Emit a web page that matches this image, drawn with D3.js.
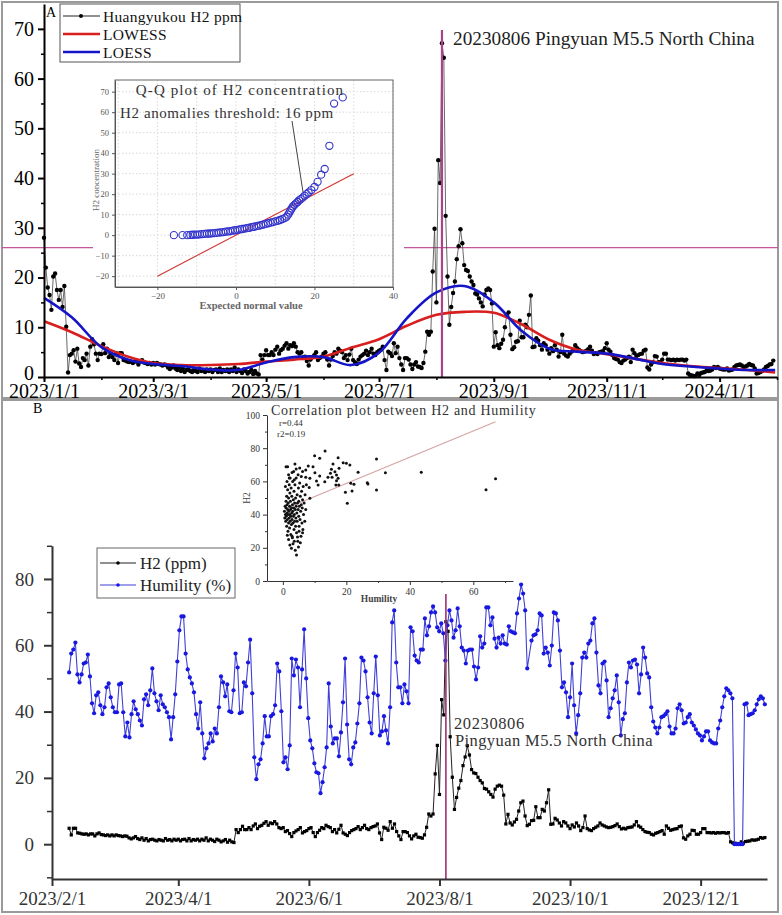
<!DOCTYPE html>
<html>
<head>
<meta charset="utf-8">
<script src="https://cdnjs.cloudflare.com/ajax/libs/d3/7.8.5/d3.min.js"></script>
<style>
  body { margin: 0; background: #fff; }
  svg { display: block; }
</style>
</head>
<body>
<svg id="chart" width="782" height="915"></svg>
<script>
// ---------- data ----------
// Huangyukou H2 (ppm), daily from 2023-01-01 to 2024-01-30
const h2Start = "2023-01-01";
const h2Daily = [
  // Jan
  28, 22, 18, 16.5, 13.5, 20.2, 20.8, 17.5, 15.5, 17.5, 14.1, 18.3, 10.1, 0.9, 4.4, 4.7, 5.4, 3.1, 5.7, 2.7, 2.0, 3.8, 3.4, 4.7, 2.3, 6.1, 7.6, 6.6, 4.7, 3.4, 4.7,
  // Feb
  4.6, 6.6, 4.8, 5.7, 4.0, 4.7, 4.0, 3.4, 4.8, 2.8, 4.8, 4.8, 3.4, 3.3, 3.1, 3.0, 3.1, 2.8, 3.1, 3.1, 2.5, 3.1, 3.4, 2.9, 2.8, 2.6, 2.8, 2.5,
  // Mar
  2.8, 2.5, 2.8, 2.6, 2.5, 2.3, 2.5, 2.4, 1.9, 1.6, 1.9, 2.3, 1.7, 1.4, 1.9, 1.2, 1.7, 1.0, 1.4, 1.5, 1.2, 1.0, 1.4, 1.2, 1.0, 1.7, 1.2, 1.4, 1.0, 1.5, 1.2,
  // Apr
  1.5, 1.0, 1.4, 1.5, 1.0, 1.7, 1.0, 1.4, 1.2, 1.5, 1.0, 1.5, 1.2, 1.9, 1.0, 1.5, 1.2, 0.8, 1.5, 1.2, 0.7, 1.0, 1.4, 0.6, 1.2, 0.7, 0.5, 4.4, 3.5, 4.4,
  // May
  5.4, 4.4, 4.4, 5.0, 4.4, 5.5, 6.1, 4.7, 5.4, 5.7, 6.3, 6.8, 5.7, 6.4, 6.2, 6.8, 6.1, 5.0, 4.7, 5.0, 3.8, 4.1, 3.2, 2.3, 3.5, 4.0, 4.4, 5.0, 3.4, 3.8, 4.1,
  // Jun
  4.7, 5.0, 3.5, 2.3, 3.5, 4.2, 5.0, 4.7, 5.7, 5.3, 5.0, 3.8, 4.4, 3.4, 4.5, 5.7, 3.4, 3.0, 2.6, 3.5, 4.1, 4.4, 4.7, 5.3, 4.4, 5.0, 5.7, 4.7, 4.4, 5.0,
  // Jul
  5.3, 5.5, 6.1, 3.4, 1.4, 5.1, 4.8, 4.2, 6.8, 4.8, 6.1, 3.8, 2.5, 1.4, 3.8, 3.8, 3.5, 2.5, 1.6, 2.5, 3.0, 2.1, 2.0, 1.8, 2.8, 5.1, 9.1, 8.5, 9.1, 21.2, 29.8,
  // Aug
  15.0, 43.6, 39.0, 67.1, 64.2, 32.4, 20.2, 10.5, 14.1, 16.9, 19.2, 23.7, 26.3, 29.7, 26.9, 22.5, 21.5, 21.3, 20.2, 19.2, 18.5, 16.8, 16.6, 15.8, 15.0, 14.2, 16.6, 17.5, 17.8, 17.5, 14.8,
  // Sep
  6.1, 9.0, 6.4, 5.8, 6.7, 7.5, 10.0, 12.5, 13.0, 8.5, 5.6, 6.0, 7.1, 7.2, 11.3, 8.0, 8.0, 10.5, 10.0, 12.5, 16.4, 6.0, 6.1, 7.8, 7.3, 6.4, 5.5, 6.8, 6.4, 5.5,
  // Oct
  4.7, 5.8, 5.2, 6.4, 5.5, 4.1, 5.0, 8.5, 4.7, 4.3, 4.1, 4.7, 5.1, 5.5, 6.4, 5.8, 5.5, 5.2, 5.0, 5.1, 5.3, 5.6, 6.1, 5.3, 4.6, 4.8, 4.6, 5.0, 5.1, 5.2, 5.8,
  // Nov
  6.8, 5.5, 5.1, 4.4, 3.8, 3.6, 3.5, 3.0, 2.8, 3.3, 3.5, 3.8, 4.1, 3.0, 5.5, 4.8, 4.2, 4.4, 4.6, 4.7, 5.3, 5.5, 1.9, 1.5, 2.5, 3.0, 4.2, 4.1, 3.0, 3.0,
  // Dec
  3.5, 4.7, 4.7, 3.5, 3.5, 3.4, 3.5, 3.3, 3.5, 3.4, 3.5, 3.5, 3.3, 3.5, 0.7, 0.4, 0.3, 0.2, 0.2, 0.7, 0.4, 0.8, 0.9, 1.0, 1.3, 1.2, 1.3, 1.5, 2.0, 1.8, 2.0,
  // Jan 2024
  1.7, 1.6, 1.5, 1.5, 1.7, 1.3, 1.4, 1.5, 2.0, 2.3, 2.4, 2.5, 2.3, 2.0, 2.1, 2.3, 2.6, 2.4, 2.3, 1.7, 0.7, 0.8, 1.0, 1.2, 1.5, 2.0, 2.2, 2.5, 2.6, 3.3
];

// smoothed curves, read at the 1st and 16th of each month
const smoothDates = ["2023-01-01", "2023-01-16", "2023-02-01", "2023-02-16", "2023-03-01", "2023-03-16",
  "2023-04-01", "2023-04-16", "2023-05-01", "2023-05-16", "2023-06-01", "2023-06-16", "2023-07-01",
  "2023-07-16", "2023-08-01", "2023-08-16", "2023-09-01", "2023-09-16", "2023-10-01", "2023-10-16",
  "2023-11-01", "2023-11-16", "2023-12-01", "2023-12-16", "2024-01-01", "2024-01-16", "2024-01-31"];
const lowessVals = [11.2, 9.0, 6.2, 4.0, 2.8, 2.4, 2.4, 2.6, 3.1, 3.5, 4.1, 5.9, 7.6, 10.3, 12.5, 13.1,
  12.9, 10.6, 7.5, 5.5, 4.6, 3.7, 2.8, 2.2, 1.8, 1.4, 0.9];
const loessVals = [15.9, 12.0, 6.0, 3.4, 2.6, 2.2, 1.5, 1.4, 2.9, 4.0, 4.0, 2.4, 4.9, 11.8, 17.0, 18.3,
  15.0, 9.3, 5.7, 5.1, 4.7, 3.7, 2.6, 2.1, 1.7, 1.4, 1.4];

const refLevelA = 26;
const eventDate = "2023-08-04";   // where the reference draws the event line
const eventLabel = "20230806 Pingyuan M5.5 North China";

// Q-Q plot: [expected normal value, H2 concentration]
const qqPoints = [[-15.8, 0], [-13.6, 0], [-12.4, 0], [-11.6, 0.1], [-11, 0.2], [-10.4, 0.3], [-9.8, 0.3],
  [-9.2, 0.4], [-8.6, 0.5], [-8, 0.6], [-7.4, 0.7], [-6.8, 0.8], [-6.2, 0.9], [-5.6, 1.0], [-5, 1.1],
  [-4.4, 1.2], [-3.8, 1.4], [-3.2, 1.5], [-2.6, 1.7], [-2, 1.8], [-1.4, 2.0], [-0.8, 2.2], [-0.2, 2.4],
  [0.4, 2.6], [1, 2.8], [1.6, 3.0], [2.2, 3.2], [2.8, 3.4], [3.4, 3.6], [4, 3.9], [4.6, 4.1], [5.2, 4.4],
  [5.8, 4.6], [6.4, 4.9], [7, 5.2], [7.6, 5.5], [8.2, 5.8], [8.8, 6.1], [9.4, 6.4], [10, 6.7], [10.6, 7.0],
  [11.2, 7.4], [11.8, 7.8], [12.4, 8.3], [12.9, 9.0], [13.3, 10], [13.6, 11], [13.9, 12], [14.2, 13],
  [14.5, 14], [14.9, 14.8], [15.3, 15.5], [15.7, 16.2], [16.1, 17], [16.5, 17.6], [17, 18.3], [17.5, 19.2],
  [18, 20], [18.5, 20.8], [19.2, 22], [20, 23.5], [20.8, 26], [21.7, 29.5], [22.6, 32.3], [23.8, 43.6],
  [25, 64.2], [27.2, 67.2]];
const qqRefLine = [[-20, -20], [30, 30]];

// Humility (%), roughly daily, three stretches of the record
const humPeriods = [["2023-02-09", "2023-05-24"], ["2023-05-25", "2023-09-11"], ["2023-09-13", "2023-12-31"]];
const humFebMay = [51.8, 57.5, 58.7, 60.8, 51.2, 48.8, 51.2, 54.5, 54.8, 57.2, 50.6, 42.5, 39.5, 44.9, 45.8,
  41.9, 39.2, 41.3, 47.3, 48.5, 44.3, 41.3, 39.8, 39.8, 48.2, 48.5, 39.8, 32.5, 36.7, 32.2, 39.2, 43.1, 40.7,
  39.2, 37.3, 35.8, 43.7, 45.2, 41.9, 46.4, 53, 45.5, 43.1, 40.4, 44.9, 42.2, 41.3, 39.8, 38.3, 31.6, 38.3,
  45.2, 55.1, 64.5, 68.7, 68.7, 57.5, 52.7, 50.3, 48.5, 45.8, 39.2, 34.9, 42.8, 33.4, 25.9, 28.9, 30.4, 33.4,
  31, 34.9, 33.4, 41.3, 50.6, 48.8, 44.6, 48.2, 40.1, 39.8, 46.4, 57.5, 53.3, 39.5, 39.8, 48.8, 47.6, 54.8,
  61.7, 45.5, 26.2, 19.6, 24.1, 25.6, 30.4, 38.6, 32.5, 32.5, 38.6, 39.2, 41.9, 54.5, 52.1, 40.1, 24.7, 26.2,
  22.6, 29.8, 56];
const humMaySep = [50.9, 55.7, 53.3, 41.3, 52.7, 64.8, 50, 38, 31.3, 28.9, 24.4, 21.7, 21.4, 15.4, 18.7, 23.2,
  29.2, 48.5, 35.5, 30.4, 31.9, 31.9, 26.5, 33.7, 42.8, 56, 36.1, 25.6, 24.1, 29.2, 30.7, 36.4, 42.5, 56.3,
  55.4, 52.1, 44.3, 36.7, 33.4, 45.5, 56.6, 44.9, 32.8, 34, 38.6, 34.3, 30.4, 41.3, 66.9, 70.5, 54.8, 47.3,
  47.3, 42.5, 48.2, 46.1, 42.5, 65.4, 64.2, 56.9, 55.4, 54.8, 58.7, 58.7, 68.1, 63, 65.7, 69.9, 71.7, 69.9,
  65.4, 64.2, 66.6, 63.6, 55.4, 66, 70.5, 67.5, 62.3, 64.5, 71.1, 65.7, 59.3, 58.4, 54.5, 58.4, 58.7, 58.7,
  53.6, 49.7, 53.3, 62.7, 59.3, 60.5, 71.4, 71.4, 66, 68.4, 62, 59.3, 62.3, 60.5, 63, 60.5, 60.2, 65.7, 64.2,
  63.9, 63.6, 69.6, 74.1, 78.3, 75.6, 70.5, 53];
const humSepDec = [61.4, 63, 63.3, 64.5, 69.6, 69, 57.5, 59.3, 57.8, 53.9, 59.9, 69.9, 69.6, 67.5, 58.4, 47.3,
  48.8, 45.8, 38.3, 44.3, 54.5, 41.9, 33.4, 38.9, 45.5, 56.3, 57.8, 56.3, 60.5, 61.4, 66.6, 68.1, 57.8, 47.9,
  45.5, 54.5, 55.1, 49.4, 38.3, 41, 44, 46.4, 50.9, 42.8, 32.8, 37.7, 39.5, 48.8, 54.8, 53.3, 55.4, 55.7, 54.2,
  45.5, 51.2, 59.3, 56.3, 51.5, 50.3, 41.3, 37, 35.2, 33.4, 35.2, 38.3, 38.6, 39.2, 40.1, 35.5, 33.4, 33.4,
  34.9, 41, 42.2, 40.4, 36.4, 36.7, 38.3, 39.2, 36.7, 35.8, 34.6, 33.4, 32.8, 31.3, 32.5, 34, 34, 31.3, 30.7,
  30.4, 30.4, 34.9, 37.3, 41.3, 44.6, 47, 46.4, 45.5, 44, 0, 0, 0, 0, 0, 42.2, 42.5, 38.9, 39.2, 39.5, 40.4,
  42.2, 43.7, 44.6, 44, 42.2];

// correlation inset: [Humility, H2]
const corrPoints = [
  [0.5, 42], [0.6, 38], [0.7, 45], [0.8, 40], [0.9, 36], [1.0, 44], [1.0, 48], [1.1, 39], [1.2, 33], [1.2, 51],
  [1.3, 41], [1.3, 46], [1.4, 37], [1.5, 43], [1.5, 55], [1.6, 30], [1.6, 40], [1.7, 47], [1.8, 35], [1.8, 50],
  [1.9, 42], [2.0, 38], [2.0, 58], [2.1, 45], [2.1, 32], [2.2, 40], [2.2, 53], [2.3, 36], [2.4, 43], [2.4, 48],
  [2.5, 28], [2.5, 39], [2.6, 56], [2.7, 34], [2.7, 44], [2.8, 41], [2.8, 51], [2.9, 37], [3.0, 46], [3.0, 26],
  [3.1, 42], [3.1, 60], [3.2, 35], [3.3, 49], [3.3, 39], [3.4, 44], [3.5, 31], [3.5, 54], [3.6, 40], [3.7, 47],
  [3.7, 36], [3.8, 58], [3.9, 43], [4.0, 33], [4.0, 50], [4.1, 38], [4.2, 45], [4.2, 62], [4.3, 29], [4.4, 41],
  [4.5, 52], [4.5, 36], [4.6, 47], [4.7, 24], [4.8, 43], [4.9, 56], [5.0, 39], [5.0, 48], [5.1, 33], [5.2, 45],
  [5.3, 59], [5.4, 37], [5.5, 51], [5.6, 42], [5.7, 27], [5.8, 46], [5.9, 54], [6.0, 35], [6.1, 44], [6.2, 49],
  [6.3, 31], [6.4, 57], [6.5, 40], [6.7, 47], [6.9, 36], [7.0, 52], [7.2, 43], [7.4, 58],
  [1.0, 68.9], [1.5, 68.9], [1.8, 64], [2.3, 62], [2.9, 65.3], [3.4, 66], [3.8, 70.5], [4.2, 67.5], [4.8, 64],
  [5.3, 68], [5.8, 63], [6.2, 66], [0.8, 57], [1.3, 60], [2.0, 62], [3.6, 61],
  [2.7, 19.7], [2.2, 21.7], [3.2, 22.5], [4.3, 15.7], [3.6, 24], [1.8, 25], [4.9, 20.5], [2.9, 27], [5.5, 23],
  [3.9, 18.5], [1.4, 27.5], [4.6, 26.5], [6.2, 29], [5.1, 30],
  [10, 75.5], [11.6, 73.9], [13.3, 78.3], [15.8, 70.5], [17.4, 74.3], [19, 71.3], [20, 70.9], [21.1, 69.9],
  [23.7, 65.5], [29.5, 73.5], [32.3, 65.2], [43.6, 65.5], [67, 61.6], [64, 55], [29.5, 54.8], [26.6, 59.2],
  [26.8, 58.5], [22.4, 58.3], [21.4, 58.9], [19.7, 53.4], [21.8, 54.2], [20.3, 46.8], [11.1, 57.8], [8.5, 61.9],
  [11.6, 63.3], [13.2, 59.8], [14.2, 62.5], [15, 64.9], [15.5, 62.5], [16.4, 65.8], [16.9, 63.9], [17.4, 61.9],
  [17.7, 67.9], [16.7, 57.8], [17.6, 57.8], [16.9, 60.4], [15.3, 67.3], [9.5, 68.9], [8, 69.3], [7.2, 66.9],
  [10.1, 65.2], [10.6, 60.2], [8.3, 56.4], [8.5, 49.8], [7.2, 62.5]
];
const corrFit = [[1.3, 44], [67, 96]];

const tickDatesA = ["2023-01-01", "2023-03-01", "2023-05-01", "2023-07-01", "2023-09-01", "2023-11-01", "2024-01-01"];
const tickDatesB = ["2023-02-01", "2023-04-01", "2023-06-01", "2023-08-01", "2023-10-01", "2023-12-01"];

// ---------- drawing ----------
const SERIF = '"Liberation Serif", "Times New Roman", serif';
const parse = d3.timeParse("%Y-%m-%d");
const fmt = d3.timeFormat("%Y/%-m/%-d");
const svg = d3.select("#chart");

function styleAxis(g, size, color, width) {
  g.attr("font-family", SERIF);
  g.select(".domain").attr("stroke", color).attr("stroke-width", width);
  g.selectAll(".tick line").attr("stroke", color).attr("stroke-width", width);
  g.selectAll(".tick text").attr("font-size", size).attr("fill", color);
}

const h2Series = h2Daily.map((v, i) => ({ date: d3.timeDay.offset(parse(h2Start), i), value: v }));

// panel frames
svg.append("rect").attr("x", 2).attr("y", 2).attr("width", 776).attr("height", 396)
  .attr("fill", "none").attr("stroke", "#9a9a9a").attr("stroke-width", 2);
svg.append("rect").attr("x", 2).attr("y", 400).attr("width", 776).attr("height", 512)
  .attr("fill", "none").attr("stroke", "#9a9a9a").attr("stroke-width", 2);

// ===== Panel A =====
const xA = d3.scaleTime().domain([parse("2023-01-01"), parse("2024-02-01")]).range([44, 777]);
const yA = d3.scaleLinear().domain([0, 75]).range([377, 4]);
const gA = svg.append("g");

gA.append("line").attr("x1", 2).attr("x2", 778).attr("y1", yA(refLevelA)).attr("y2", yA(refLevelA))
  .attr("stroke", "#c2559c").attr("stroke-width", 1.2);

gA.append("path").datum(h2Series)
  .attr("fill", "none").attr("stroke", "#444").attr("stroke-width", 0.8)
  .attr("d", d3.line().x(d => xA(d.date)).y(d => yA(d.value)));
gA.append("g").selectAll("circle").data(h2Series).join("circle")
  .attr("cx", d => xA(d.date)).attr("cy", d => yA(d.value)).attr("r", 2.2).attr("fill", "#000");

const smoothLine = vals => d3.line().curve(d3.curveCatmullRom.alpha(0.5))
  .x((d, i) => xA(parse(smoothDates[i]))).y(d => yA(d))(vals);
gA.append("path").attr("d", smoothLine(lowessVals)).attr("fill", "none")
  .attr("stroke", "#d81e1e").attr("stroke-width", 2.6);
gA.append("path").attr("d", smoothLine(loessVals)).attr("fill", "none")
  .attr("stroke", "#1414c8").attr("stroke-width", 2.6);

gA.append("line").attr("x1", xA(parse(eventDate))).attr("x2", xA(parse(eventDate)))
  .attr("y1", 30).attr("y2", 377).attr("stroke", "#a8458a").attr("stroke-width", 2.2);
gA.append("text").attr("x", 453).attr("y", 45).attr("font-family", SERIF).attr("font-size", 19.3)
  .attr("fill", "#222").text(eventLabel);

// axes A
const axA = gA.append("g").attr("transform", "translate(0,377)")
  .call(d3.axisBottom(xA).tickValues(tickDatesA.map(parse)).tickFormat(fmt)
    .tickSize(5).tickPadding(2).tickSizeOuter(0));
styleAxis(axA, 20, "#000", 2);
const axAminor = gA.append("g").attr("transform", "translate(0,377)")
  .call(d3.axisBottom(xA).ticks(d3.timeMonth.every(1)).tickFormat("").tickSize(3).tickSizeOuter(0));
axAminor.select(".domain").remove();
axAminor.selectAll(".tick line").attr("stroke", "#000").attr("stroke-width", 1.5);

const ayA = gA.append("g").attr("transform", "translate(44,0)")
  .call(d3.axisLeft(yA).tickValues(d3.range(0, 71, 10)).tickSize(6).tickPadding(4).tickSizeOuter(0));
styleAxis(ayA, 20, "#000", 2);
// lift the "0" label a little so it clears the date labels below
ayA.selectAll(".tick text").filter(d => d === 0).attr("dy", "0.1em");
const ayAminor = gA.append("g").attr("transform", "translate(44,0)")
  .call(d3.axisLeft(yA).tickValues(d3.range(5, 71, 10)).tickFormat("").tickSize(3).tickSizeOuter(0));
ayAminor.select(".domain").remove();
ayAminor.selectAll(".tick line").attr("stroke", "#000").attr("stroke-width", 1.5);

gA.append("text").attr("x", 46).attr("y", 17).attr("font-family", SERIF).attr("font-size", 14).text("A");

// legend A
const legA = gA.append("g");
legA.append("rect").attr("x", 60).attr("y", 4).attr("width", 180).attr("height", 58)
  .attr("fill", "#fff").attr("stroke", "#555").attr("stroke-width", 1);
const legAItems = [
  { label: "Huangyukou H2 ppm", color: "#222", width: 1, dot: true },
  { label: "LOWESS", color: "#d81e1e", width: 2.6, dot: false },
  { label: "LOESS", color: "#1414c8", width: 2.6, dot: false }
];
legAItems.forEach((it, i) => {
  const y = 16 + i * 18;
  legA.append("line").attr("x1", 63).attr("x2", 100).attr("y1", y).attr("y2", y)
    .attr("stroke", it.color).attr("stroke-width", it.width);
  if (it.dot) legA.append("circle").attr("cx", 81).attr("cy", y).attr("r", 2).attr("fill", "#000");
  legA.append("text").attr("x", 103).attr("y", y + 5.5).attr("font-family", SERIF)
    .attr("font-size", 15.5).attr("letter-spacing", 0.3).attr("fill", "#111").text(it.label);
});

// Q-Q inset
const gQ = gA.append("g");
gQ.append("rect").attr("x", 93).attr("y", 68).attr("width", 311).attr("height", 247).attr("fill", "#fff");
const xQ = d3.scaleLinear().domain([-30.8, 40]).range([115, 393]);
const yQ = d3.scaleLinear().domain([-25.3, 75.7]).range([287, 80]);
d3.range(-20, 71, 10).forEach(v => {
  gQ.append("line").attr("x1", 115).attr("x2", 393).attr("y1", yQ(v)).attr("y2", yQ(v))
    .attr("stroke", "#cfcfcf").attr("stroke-width", 0.8).attr("stroke-dasharray", "1.5,2");
});
d3.range(-30, 41, 10).forEach(v => {
  gQ.append("line").attr("x1", xQ(v)).attr("x2", xQ(v)).attr("y1", 80).attr("y2", 287)
    .attr("stroke", "#cfcfcf").attr("stroke-width", 0.8).attr("stroke-dasharray", "1.5,2");
});
gQ.append("rect").attr("x", 115).attr("y", 80).attr("width", 278).attr("height", 207)
  .attr("fill", "none").attr("stroke", "#666").attr("stroke-width", 1);
const axQ = gQ.append("g").attr("transform", "translate(0,287)")
  .call(d3.axisBottom(xQ).tickValues([-20, 0, 20, 40]).tickSize(3).tickPadding(3).tickSizeOuter(0));
styleAxis(axQ, 9, "#555", 1);
const ayQ = gQ.append("g").attr("transform", "translate(115,0)")
  .call(d3.axisLeft(yQ).tickValues(d3.range(-20, 71, 10)).tickSize(3).tickPadding(3).tickSizeOuter(0));
styleAxis(ayQ, 8.5, "#555", 1);
gQ.append("text").attr("x", 251).attr("y", 309).attr("text-anchor", "middle").attr("font-family", SERIF)
  .attr("font-size", 10.5).attr("font-weight", "bold").attr("fill", "#666").text("Expected normal value");
gQ.append("text").attr("transform", "translate(99,180) rotate(-90)").attr("text-anchor", "middle")
  .attr("font-family", SERIF).attr("font-size", 9).attr("fill", "#666").text("H2 concentration");

gQ.append("line").attr("x1", xQ(qqRefLine[0][0])).attr("y1", yQ(qqRefLine[0][1]))
  .attr("x2", xQ(qqRefLine[1][0])).attr("y2", yQ(qqRefLine[1][1]))
  .attr("stroke", "#d03434").attr("stroke-width", 1.1);
gQ.append("g").selectAll("circle").data(qqPoints).join("circle")
  .attr("cx", d => xQ(d[0])).attr("cy", d => yQ(d[1])).attr("r", 3.6)
  .attr("fill", "none").attr("stroke", "#3434cc").attr("stroke-width", 1.1);
gQ.append("line").attr("x1", 292).attr("y1", 121).attr("x2", 303).attr("y2", 192)
  .attr("stroke", "#444").attr("stroke-width", 1);
gQ.append("text").attr("x", 240).attr("y", 95).attr("text-anchor", "middle").attr("font-family", SERIF)
  .attr("font-size", 15).attr("letter-spacing", 1.1).attr("fill", "#333").text("Q-Q plot of H2 concentration");
gQ.append("text").attr("x", 120).attr("y", 118).attr("font-family", SERIF)
  .attr("font-size", 15).attr("letter-spacing", 0.6).attr("fill", "#333").text("H2 anomalies threshold: 16 ppm");

// ===== Panel B =====
const xB = d3.scaleTime().domain([parse("2023-02-01"), parse("2024-01-01")]).range([52, 767]);
const yB = d3.scaleLinear().domain([-10.5, 90]).range([879, 545.8]);
const gB = svg.append("g");

// correlation inset (drawn first, sits in the empty top area)
const gC = gB.append("g");
gC.append("rect").attr("x", 224).attr("y", 402).attr("width", 318).attr("height", 205).attr("fill", "#fff");
const xC = d3.scaleLinear().domain([-5, 72.5]).range([267, 513]);
const yC = d3.scaleLinear().domain([0, 100]).range([581, 415]);
const axC = gC.append("g").attr("transform", "translate(0,581)")
  .call(d3.axisBottom(xC).tickValues([0, 20, 40, 60]).tickSize(4).tickPadding(3).tickSizeOuter(0));
styleAxis(axC, 9.5, "#333", 1);
const axCm = gC.append("g").attr("transform", "translate(0,581)")
  .call(d3.axisBottom(xC).tickValues([10, 30, 50, 70]).tickFormat("").tickSize(2).tickSizeOuter(0));
axCm.select(".domain").remove();
axCm.selectAll(".tick line").attr("stroke", "#333");
const ayC = gC.append("g").attr("transform", "translate(267,0)")
  .call(d3.axisLeft(yC).tickValues(d3.range(0, 101, 20)).tickSize(4).tickPadding(3).tickSizeOuter(0));
styleAxis(ayC, 9.5, "#333", 1);
const ayCm = gC.append("g").attr("transform", "translate(267,0)")
  .call(d3.axisLeft(yC).tickValues(d3.range(10, 100, 20)).tickFormat("").tickSize(2).tickSizeOuter(0));
ayCm.select(".domain").remove();
ayCm.selectAll(".tick line").attr("stroke", "#333");
gC.append("line").attr("x1", xC(corrFit[0][0])).attr("y1", yC(corrFit[0][1]))
  .attr("x2", xC(corrFit[1][0])).attr("y2", yC(corrFit[1][1]))
  .attr("stroke", "#d4a3a3").attr("stroke-width", 1.1);
gC.append("g").selectAll("circle").data(corrPoints).join("circle")
  .attr("cx", d => xC(d[0])).attr("cy", d => yC(d[1])).attr("r", 1.5).attr("fill", "#111");
gC.append("text").attr("x", 271).attr("y", 415).attr("font-family", SERIF).attr("font-size", 14)
  .attr("letter-spacing", 0.7).attr("fill", "#333").text("Correlation plot between H2 and Humility");
gC.append("text").attr("x", 279).attr("y", 426).attr("font-family", SERIF).attr("font-size", 9)
  .attr("fill", "#333").text("r=0.44");
gC.append("text").attr("x", 277).attr("y", 437).attr("font-family", SERIF).attr("font-size", 9)
  .attr("fill", "#333").text("r2=0.19");
gC.append("text").attr("x", 379).attr("y", 602).attr("text-anchor", "middle").attr("font-family", SERIF)
  .attr("font-size", 9.5).attr("font-weight", "bold").attr("fill", "#444").text("Humility");
gC.append("text").attr("transform", "translate(250,498) rotate(-90)").attr("text-anchor", "middle")
  .attr("font-family", SERIF).attr("font-size", 9.5).attr("fill", "#444").text("H2");

// H2 in panel B
const h2B = h2Series.filter(d => d.date >= parse("2023-02-09") && d.date <= parse("2023-12-31"));
gB.append("path").datum(h2B).attr("fill", "none").attr("stroke", "#222").attr("stroke-width", 1)
  .attr("d", d3.line().x(d => xB(d.date)).y(d => yB(d.value)));
gB.append("g").selectAll("rect").data(h2B).join("rect")
  .attr("x", d => xB(d.date) - 1.6).attr("y", d => yB(d.value) - 1.6)
  .attr("width", 3.2).attr("height", 3.2).attr("fill", "#000");

// Humility
const humSeries = [];
[humFebMay, humMaySep, humSepDec].forEach((vals, k) => {
  const t = d3.scaleLinear().domain([0, vals.length - 1])
    .range([parse(humPeriods[k][0]).getTime(), parse(humPeriods[k][1]).getTime()]);
  vals.forEach((v, i) => humSeries.push({ date: new Date(t(i)), value: v }));
});
gB.append("path").datum(humSeries).attr("fill", "none").attr("stroke", "#4040d8").attr("stroke-width", 1.1)
  .attr("d", d3.line().x(d => xB(d.date)).y(d => yB(d.value)));
gB.append("g").selectAll("circle").data(humSeries).join("circle")
  .attr("cx", d => xB(d.date)).attr("cy", d => yB(d.value)).attr("r", 2.1).attr("fill", "#1818e0");

// event line + label
gB.append("line").attr("x1", xB(parse(eventDate))).attr("x2", xB(parse(eventDate)))
  .attr("y1", 594).attr("y2", 879).attr("stroke", "#a03070").attr("stroke-width", 1.6);
gB.append("text").attr("x", 454).attr("y", 729).attr("font-family", SERIF).attr("font-size", 16.5)
  .attr("letter-spacing", 0.6).attr("fill", "#333").text("20230806");
gB.append("text").attr("x", 455).attr("y", 746).attr("font-family", SERIF).attr("font-size", 16.5)
  .attr("letter-spacing", 0.4).attr("fill", "#333").text("Pingyuan M5.5 North China");

// axes B
const axB = gB.append("g").attr("transform", "translate(0,879)")
  .call(d3.axisBottom(xB).tickValues(tickDatesB.map(parse)).tickFormat(fmt)
    .tickSize(7).tickPadding(6).tickSizeOuter(0));
styleAxis(axB, 19, "#333", 2);
const ayB = gB.append("g").attr("transform", "translate(52,0)")
  .call(d3.axisLeft(yB).tickValues([0, 20, 40, 60, 80]).tickSize(8).tickPadding(10).tickSizeOuter(0));
styleAxis(ayB, 19, "#333", 2);
const ayBminor = gB.append("g").attr("transform", "translate(52,0)")
  .call(d3.axisLeft(yB).tickValues([-10, 10, 30, 50, 70, 90]).tickFormat("").tickSize(5).tickSizeOuter(0));
ayBminor.select(".domain").remove();
ayBminor.selectAll(".tick line").attr("stroke", "#333").attr("stroke-width", 1.5);

gB.append("text").attr("x", 33).attr("y", 413).attr("font-family", SERIF).attr("font-size", 14).text("B");

// legend B
const legB = gB.append("g");
legB.append("rect").attr("x", 97).attr("y", 548).attr("width", 138).attr("height", 50)
  .attr("fill", "#fff").attr("stroke", "#666").attr("stroke-width", 1);
const legBItems = [
  { label: "H2 (ppm)", color: "#222", dot: "#000" },
  { label: "Humility (%)", color: "#4040d8", dot: "#1818e0" }
];
legBItems.forEach((it, i) => {
  const y = 563 + i * 22;
  legB.append("line").attr("x1", 100).attr("x2", 136).attr("y1", y).attr("y2", y)
    .attr("stroke", it.color).attr("stroke-width", 1.1);
  legB.append("circle").attr("cx", 118).attr("cy", y).attr("r", 1.8).attr("fill", it.dot);
  legB.append("text").attr("x", 140).attr("y", y + 6).attr("font-family", SERIF)
    .attr("font-size", 17).attr("fill", "#222").text(it.label);
});
</script>
</body>
</html>
